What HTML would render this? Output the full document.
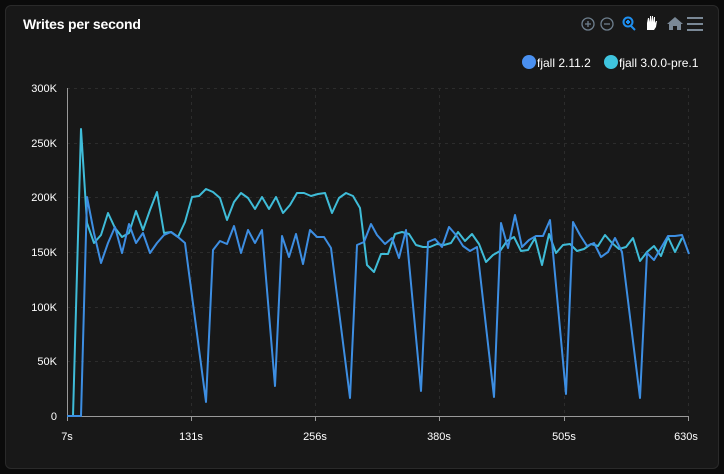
<!DOCTYPE html>
<html><head><style>
body{margin:0;background:#0b0b0b;width:724px;height:474px;overflow:hidden;font-family:"Liberation Sans",sans-serif}
.card{position:absolute;left:5px;top:5px;width:712px;height:462px;background:#181818;border:1px solid #2a2a2a;border-radius:6px}
</style></head><body>
<div class="card"></div>
<svg width="724" height="474" style="position:absolute;left:0;top:0" font-family="Liberation Sans, sans-serif">
<text x="23" y="29" fill="#fff" font-size="14" font-weight="bold" letter-spacing="-0.2">Writes per second</text>
<g stroke="#6e7f8e" stroke-width="1.3" fill="none">
<circle cx="588" cy="24" r="6"/><path d="M585 24h6M588 21v6"/>
<circle cx="607" cy="24" r="6"/><path d="M604 24h6"/>
</g>
<g stroke="#1e8ff0" stroke-width="2" fill="none"><circle cx="628" cy="22" r="4.5"/><path d="M631 26l4 4M626 22h4M628 20v4"/></g>
<path d="M647 30v-7l1-5h1l1 4v-6h1v6l1-6h1v6l1-5h1v6l1-2h1l-1 6-2 3h-5z" fill="#fff"/>
<path d="M667 24l8-7 8 7h-2v6h-4v-4h-4v4h-4v-6z" fill="#7a8896"/>
<g stroke="#7a8896" stroke-width="2"><path d="M687 18h16M687 24h16M687 30h16"/></g>
<circle cx="529" cy="62" r="7" fill="#4a90f0"/>
<text x="537" y="67" fill="#fff" font-size="12">fjall 2.11.2</text>
<circle cx="611" cy="62" r="7" fill="#3fc4de"/>
<text x="619" y="67" fill="#fff" font-size="12">fjall 3.0.0-pre.1</text>
<g stroke="#2c2c2c" stroke-dasharray="3,4" stroke-width="1">
<path d="M67 88.5H689M67 143.5H689M67 197.5H689M67 252.5H689M67 307.5H689M67 361.5H689"/>
<path d="M191.5 88V416M315.5 88V416M439.5 88V416M564.5 88V416M688.5 88V416"/>
</g>
<path d="M67.5 88V416M67 416.5H689" stroke="#999" stroke-width="1"/>
<g stroke="#999"><path d="M67.5 416v5M191.5 416v5M315.5 416v5M439.5 416v5M564.5 416v5M688.5 416v5"/></g>
<g fill="#fff" font-size="11" text-anchor="end">
<text x="57" y="92">300K</text><text x="57" y="147">250K</text><text x="57" y="201">200K</text>
<text x="57" y="256">150K</text><text x="57" y="311">100K</text><text x="57" y="365">50K</text><text x="57" y="420">0</text>
</g>
<g fill="#fff" font-size="11" text-anchor="middle">
<text x="67" y="440">7s</text><text x="191" y="440">131s</text><text x="315" y="440">256s</text>
<text x="439" y="440">380s</text><text x="564" y="440">505s</text><text x="686" y="440">630s</text>
</g>
<polyline fill="none" stroke="#3fbcd8" stroke-width="2" stroke-linejoin="round" points="67,416 73,416 81,129 87,223 94,243 101,235 108,213 115,228 122,237 129,233 136,211 143,230 150,210 157,192 164,233 171,232 178,237 185,222 192,197 199,196 206,189 213,192 220,198 227,220 234,202 241,193 248,198 255,209 262,197 269,209 276,197 283,213 290,205 297,193 304,193 311,196 318,194 325,193 332,213 339,198 346,193 353,196 360,208 367,265 374,272 381,254 388,254 395,234 402,232 409,234 416,245 423,247 430,247 437,244 444,245 451,243 458,232 465,241 472,234 479,244 486,262 493,255 500,251 507,241 514,237 521,251 528,250 535,238 542,265 549,234 556,253 563,245 570,244 577,251 584,249 591,244 598,246 605,235 612,243 619,249 626,247 633,238 640,261 647,252 654,246 661,256 668,237 675,252 682,238"/>
<polyline fill="none" stroke="#3d8ee2" stroke-width="2" stroke-linejoin="round" points="67,416 81,416 87,197 94,233 101,263 108,243 115,227 122,253 129,224 136,243 143,233 150,253 157,243 164,235 171,232 178,237 185,243 206,402 213,250 220,241 227,244 234,226 241,253 248,230 255,243 262,230 275,386 282,236 289,257 296,234 303,264 310,230 317,237 324,237 331,248 350,398 357,245 364,242 371,224 377,235 385,244 392,238 399,258 406,230 421,391 428,242 435,239 442,247 449,227 456,235 463,246 470,251 477,247 494,397 501,223 508,248 515,215 522,247 529,240 536,236 543,236 550,220 566,394 573,222 580,235 587,246 594,243 601,257 608,252 615,238 622,252 640,398 647,253 654,260 661,248 668,236 675,236 682,235 689,254"/>
</svg>
</body></html>
